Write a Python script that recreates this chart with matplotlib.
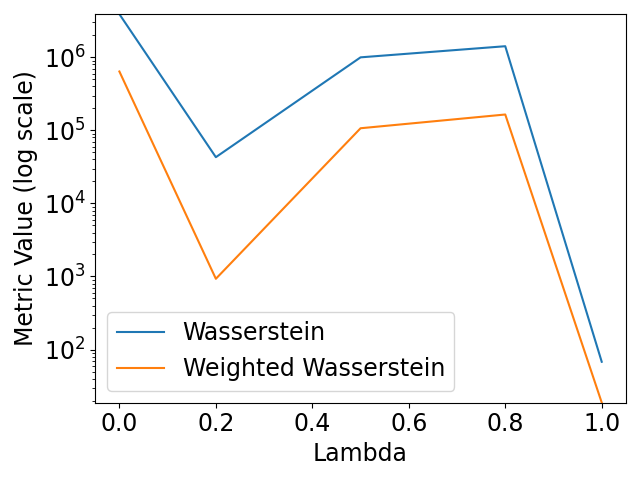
import numpy as np
import matplotlib.pyplot as plt

lambdas = [0.0, 0.2, 0.5, 0.8, 1.0]
wasserstein = [3.9e6, 4.3e4, 1.0e6, 1.42e6, 68]
weighted_wasserstein = [6.4e5, 930, 1.07e5, 1.65e5, 18.8]

plt.rcParams['font.size'] = 17

fig, ax = plt.subplots(figsize=(6.4, 4.8), dpi=100)
ax.plot(lambdas, wasserstein, label='Wasserstein')
ax.plot(lambdas, weighted_wasserstein, label='Weighted Wasserstein')
ax.set_yscale('log')
ax.set_ylim(min(weighted_wasserstein), max(wasserstein))
ax.set_xlabel('Lambda')
ax.set_ylabel('Metric Value (log scale)')
ax.legend(loc='lower left')
fig.tight_layout(pad=0.6)
fig.savefig('out.png')
